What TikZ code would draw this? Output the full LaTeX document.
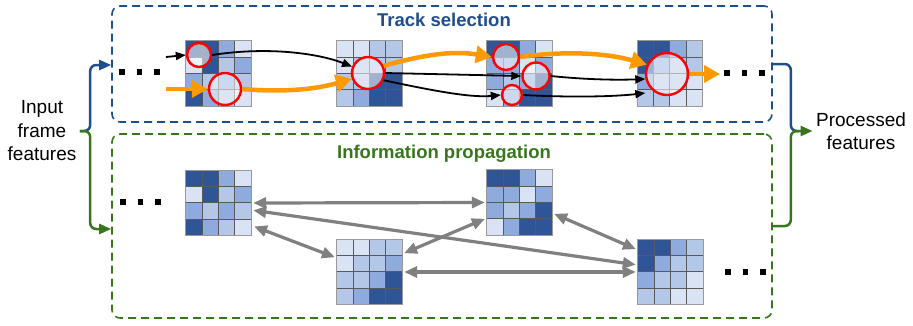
\documentclass[tikz,border=0pt]{standalone}
\usepackage{fontspec}
\setmainfont{Liberation Sans}
\usetikzlibrary{arrows.meta, calc, positioning}
\definecolor{trkblue}{HTML}{1F4E8C}
\definecolor{infgreen}{HTML}{38761D}
\definecolor{trkorange}{HTML}{FF9900}
\definecolor{arrgray}{HTML}{808080}
% cell shades
\definecolor{dk}{HTML}{2F5597}
\definecolor{md}{HTML}{8FAADC}
\definecolor{lt}{HTML}{B4C7E7}
\definecolor{vl}{HTML}{DAE3F3}

% 4x4 feature map on an empty node: #1 node, #2 colours row by row
\newcommand{\fillcells}[2]{%
  \foreach \clr [count=\i from 0] in {#2}{%
    \pgfmathtruncatemacro{\cx}{mod(\i,4)}%
    \pgfmathtruncatemacro{\cy}{div(\i,4)}%
    \fill[\clr] ($(#1.north west)+(\cx*16.25,\cy*16.25)$) rectangle +(16.25,16.25);
  }%
  \foreach \k in {1,2,3}{%
    \draw[cellline] ($(#1.north west)+(\k*16.25,0)$) -- +(0,65);
    \draw[cellline] ($(#1.north west)+(0,\k*16.25)$) -- +(65,0);
  }%
  \draw[celledge] (#1.north west) rectangle (#1.south east);
}

\begin{document}
\begin{tikzpicture}[x=1pt, y=-1pt,
    font=\fontsize{19}{23.5}\selectfont,
    trackbox/.style={draw=trkblue, line width=1.6pt, dash pattern=on 8pt off 5pt,
      rounded corners=8pt, minimum width=660pt, inner sep=0pt},
    infobox/.style={draw=infgreen, line width=1.6pt, dash pattern=on 8pt off 5pt,
      rounded corners=8pt, minimum width=660pt, inner sep=0pt},
    boxtitle/.style={font=\fontsize{18.5}{22}\selectfont\bfseries, anchor=base},
    gridbox/.style={minimum size=65pt, inner sep=0pt},
    cellline/.style={black!65, line width=0.7pt},
    celledge/.style={black!40, line width=1.1pt},
    sel/.style={circle, draw=red, line width=2.4pt, fill=white, fill opacity=0.55, inner sep=0pt},
    blk/.style={-{Triangle[length=10pt,width=8pt]}, line width=1.8pt},
    org/.style={-{Triangle[length=16pt,width=17pt]}, trkorange, line width=4.5pt},
    prop/.style={{Triangle[length=13pt,width=11pt]}-{Triangle[length=13pt,width=11pt]},
      arrgray, line width=3.2pt, shorten >=2pt, shorten <=2pt},
    brace/.style={line width=2.5pt, rounded corners=6pt, -{Triangle[length=12pt,width=10pt]}},
  ]
  \useasboundingbox (0,0) rectangle (913,325);

  % the two dashed boxes
  \node[trackbox, minimum height=116pt] (track) at (442,64) {};
  \node[infobox, minimum height=184pt] (info) at (442,226) {};
  \node[boxtitle, text=trkblue] (trktitle) at ($(track.north)+(2,21)$) {Track selection};
  \node[boxtitle, text=infgreen] (inftitle) at ($(info.north)+(2,25)$) {Information propagation};

  % Track selection: feature maps
  \node[gridbox] (g1) at (218.5,73.5) {};
  \node[gridbox] (g2) at (369.5,73.5) {};
  \node[gridbox] (g3) at (519.5,73.5) {};
  \node[gridbox] (g4) at (670,73.5) {};
  \fillcells{g1}{dk,dk,md,vl, vl,dk,lt,md, md,lt,md,lt, dk,md,lt,vl}
  \fillcells{g2}{vl,vl,lt,lt, vl,lt,lt,lt, lt,lt,dk,dk, lt,md,dk,dk}
  \fillcells{g3}{dk,dk,md,vl, md,md,vl,md, md,lt,md,dk, vl,md,dk,dk}
  \fillcells{g4}{dk,dk,md,lt, dk,md,lt,lt, md,lt,lt,vl, lt,lt,vl,vl}

  % selected regions
  \node[sel, minimum size=24pt] (c1a) at (199,55) {};
  \node[sel, minimum size=32pt] (c1b) at (225,89) {};
  \node[sel, minimum size=32pt] (c2) at (368,73) {};
  \node[sel, minimum size=26pt] (c3a) at (506,57) {};
  \node[sel, minimum size=27pt] (c3b) at (536,76) {};
  \node[sel, minimum size=20pt] (c3c) at (512,95) {};
  \node[sel, minimum size=42pt] (c4) at (667,74) {};

  % tracks
  \coordinate (kin) at (166,57);
  \coordinate (oin) at (166,89);
  \coordinate (oout) at (720,74);
  \draw[blk] (kin) -- (c1a.west);
  \draw[org] (oin) -- (c1b.west);
  \draw[blk] (c1a.east) .. controls (270,46) and (320,54) .. (c2.158);
  \draw[org] (c1b.east) .. controls (290,93) and (320,88) .. (c2.200);
  \draw[org] (c2.25) .. controls (420,56) and (450,50) .. (c3a.west);
  \draw[blk] (c2.east) -- (c3b.west);
  \draw[blk] (c2.-25) .. controls (430,90) and (470,98) .. (c3c.west);
  \draw[org] (c3a.east) .. controls (570,50) and (610,54) .. (c4.155);
  \draw[blk] (c3b.east) .. controls (590,80) and (620,80) .. ($(g4.west)+(8,5.5)$);
  \draw[blk] (c3c.east) .. controls (580,98) and (620,96) .. ($(g4.west)+(8,19.5)$);
  \draw[org] (c4.east) -- (oout);

  % Information propagation: feature maps
  \node[gridbox] (p1) at (218.5,203) {};
  \node[gridbox] (p2) at (369.5,272) {};
  \node[gridbox] (p3) at (519.5,202.5) {};
  \node[gridbox] (p4) at (670.5,272) {};
  \fillcells{p1}{dk,dk,md,vl, vl,dk,lt,md, md,lt,md,lt, dk,md,lt,vl}
  \fillcells{p2}{vl,vl,lt,lt, vl,lt,lt,md, lt,lt,md,dk, lt,md,dk,dk}
  \fillcells{p3}{dk,dk,md,vl, md,md,vl,md, md,lt,md,dk, vl,md,dk,dk}
  \fillcells{p4}{dk,dk,md,lt, dk,md,lt,lt, md,lt,lt,vl, lt,lt,vl,vl}

  % exchanges between the maps
  \draw[prop] (p1.east) -- (p3.west);
  \draw[prop] ($(p1.east)+(0,7)$) -- ($(p4.west)+(0,-7)$);
  \draw[prop] ($(p1.south east)+(1,-10)$) -- ($(p2.west)+(0,-14)$);
  \draw[prop] ($(p2.east)+(0,-18)$) -- ($(p3.west)+(0,15.5)$);
  \draw[prop] (p2.east) -- (p4.west);
  \draw[prop] ($(p3.east)+(0,10.5)$) -- ($(p4.west)+(0,-22)$);

  % dots
  \foreach \sx/\sy in {122/72, 727/73, 123/202, 728/272}
    \foreach \k in {0,1,2}
      \fill (\sx+\k*17.5,\sy) +(-2.7,-2.7) rectangle +(2.7,2.7);

  % input and output
  \node[align=center] (inp) at (42,131) {Input\\frame\\features};
  \node[align=center] (outp) at (861,131) {Processed\\features};
  \draw[brace, trkblue] (inp.east) -| ($(track.west)+(-21,1)$) -- ($(track.west)+(0,1)$);
  \draw[brace, infgreen] (inp.east) -| ($(info.west)+(-21,3)$) -- ($(info.west)+(0,3)$);
  \draw[brace, -, trkblue] (track.east) -| ($(track.east)+(18,67)$) -- +(8,0);
  \draw[brace, infgreen] (info.east) -| ($(track.east)+(18,67)$) -- (outp.west);
\end{tikzpicture}
\end{document}
